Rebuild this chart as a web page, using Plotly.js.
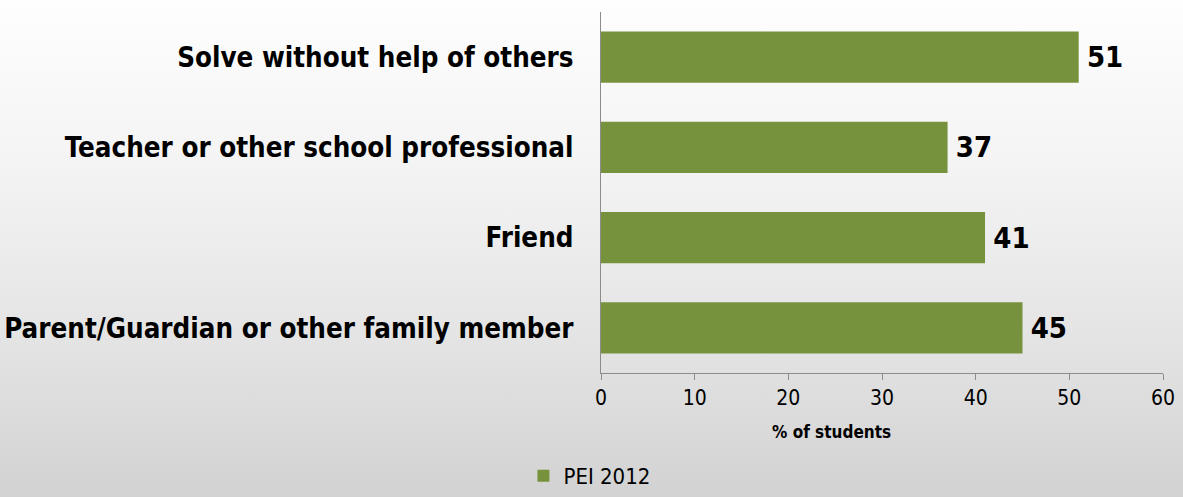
<!DOCTYPE html>
<html>
<head>
<meta charset="utf-8">
<script src="https://cdn.plot.ly/plotly-3.0.1.min.js"></script>
<style>
html,body{margin:0;padding:0;width:1183px;height:497px;overflow:hidden;}
body{background:linear-gradient(to bottom,#fefefe 0%,#f3f3f3 35%,#e3e3e3 70%,#d2d2d2 100%);}
#chart{width:1183px;height:497px;}
</style>
</head>
<body>
<div id="chart"></div>
<script>
const categories = [
  "Parent/Guardian or other family member",
  "Friend",
  "Teacher or other school professional",
  "Solve without help of others"
];
const values = [45, 41, 37, 51];
const seriesName = "PEI 2012";
const xTicks = [0, 10, 20, 30, 40, 50, 60];
const xTitle = "% of students";

const font = "'DejaVu Sans Condensed', 'Liberation Sans Narrow', sans-serif";

const trace = {
  type: "bar",
  orientation: "h",
  y: categories,
  x: values,
  name: seriesName,
  marker: {color: "#77923c"},
  width: 0.57,
  text: values.map(v => "\u2009" + v),
  textposition: "outside",
  textfont: {family: font, size: 29, color: "#000000", weight: "bold"},
  cliponaxis: false,
  hoverinfo: "x+y"
};

const layout = {
  width: 1183,
  height: 497,
  margin: {l: 601, r: 20, t: 12, b: 124},
  paper_bgcolor: "rgba(0,0,0,0)",
  plot_bgcolor: "rgba(0,0,0,0)",
  font: {family: font, color: "#000000"},
  showlegend: true,
  legend: {
    orientation: "h",
    x: -0.138, xref: "paper", xanchor: "left",
    y: 0, yref: "container", yanchor: "bottom",
    font: {family: font, size: 22, color: "#000"},
    itemwidth: 30,
    bgcolor: "rgba(0,0,0,0)"
  },
  xaxis: {
    range: [0, 60],
    tickvals: xTicks,
    ticktext: xTicks.map(String),
    showgrid: false,
    zeroline: false,
    showline: true,
    linecolor: "#8c8c8c",
    linewidth: 1,
    ticks: "outside",
    ticklen: 6,
    tickcolor: "#8c8c8c",
    tickfont: {family: font, size: 21, color: "#000"},
    fixedrange: true
  },
  yaxis: {
    showgrid: false,
    zeroline: false,
    showline: true,
    linecolor: "#8c8c8c",
    linewidth: 1,
    ticks: "",
    ticklabelstandoff: 21,
    tickfont: {family: font, size: 27.5, color: "#000", weight: "bold"},
    fixedrange: true
  },
  annotations: [{
    text: xTitle,
    xref: "paper", yref: "paper",
    x: 0.411, y: 0,
    xanchor: "center", yanchor: "middle",
    yshift: -59,
    showarrow: false,
    font: {family: font, size: 17, color: "#000", weight: "bold"}
  }],
  bargap: 0.43
};

Plotly.newPlot("chart", [trace], layout, {displayModeBar: false, staticPlot: true});
</script>
</body>
</html>
